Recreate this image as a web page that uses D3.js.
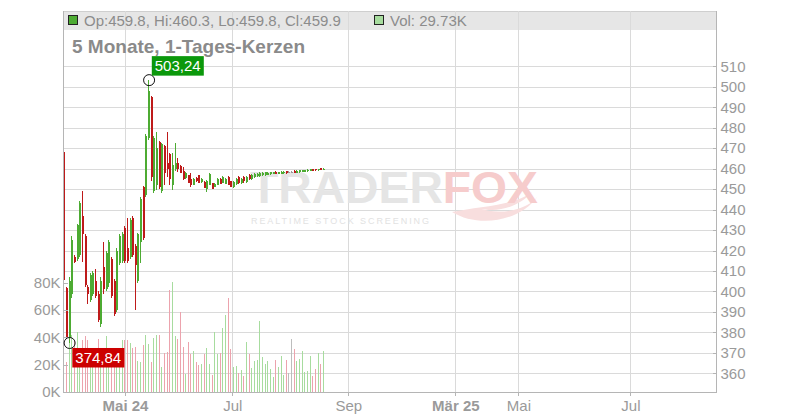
<!DOCTYPE html>
<html><head><meta charset="utf-8">
<script src="https://cdn.jsdelivr.net/npm/d3@7/dist/d3.min.js"></script>
<style>body{margin:0;background:#fff;} svg{display:block;font-family:"Liberation Sans",Arial,sans-serif;}</style>
</head><body><svg id="c" width="800" height="420"></svg>
<script>
// ---- data (daily candles, index = trading day) ----
const opens  = [468.3,401.5,378,399,417,416,418,437,427,402,396,399,405,399,384,412,401,404,416,405,391,414,415,431,421,417,436,422,
  405,424,451,447,475,495,449,452,473,449,471,463,467,452,460,463,461.5,459,455.3,456.9,455,452,455.5,456.9,453.5,453.6,450,452,452.8,451,452,455,453,452.5,456,454,
  451,452.5,456,453,456,453.5,457,455,456,456.5,456.5,457,457,457,457.2,457.5,458.5,457.4,457.5,457.8,458.7,458.3,458.5,458.9,458,458.3,458.5,458.6,458.8,458.9,459.7,459.8,459.2,460.1,459.8];
const highs  = [468.3,402,407,427,418,433,444,449,428,403,409,410,411,400,407,424,420,425,417,406,421,428,429,432,436,436,437,423,
  428.4,446,451.6,477,503.24,495.5,476,478,473.5,472.5,471.5,478,467.6,467.6,472.5,465,461.8,461,458.5,457,457.7,455.3,455.7,457,455.2,453.8,454.4,457.7,453,452.8,455.2,455.3,456.2,455.3,456.3,454.2,
  454,455.5,456.5,455.5,456.5,456.5,457.5,457.5,458,458,458.5,458.5,458.5,458.5,458.6,458.6,458.7,458.6,458.8,458.9,458.9,458.8,459,459.1,459.1,459.3,459.4,459.5,459.6,459.8,459.9,460,460,460.3,460.3];
const lows   = [405.6,377,374.84,397,414,415,417,414.5,402,394,395,398,397,385,382.8,399,400,402,397,388,390,413,414,414,414,416,417,391,
  404,414,425,446,474,454,448,449.5,450,448,452,456,452,449.5,459,458.5,457.8,454.5,455,452.8,451.2,451.8,453.6,452.8,453.2,450.4,448.7,451.8,450,450.8,451.8,452.3,452.8,452.3,451.8,450.8,
  450.5,452,452.5,452.5,453,453,454.5,454.5,455.5,456,456,456.5,456.5,456.8,457,457.3,457.2,457.2,457.3,457.6,457.6,457.9,458,457.8,457.9,458.1,458.3,458.4,458.6,458.7,458.8,459,459,459.3,459.8];
const closes = [405.6,377.5,405,425,414.5,432.5,443,428,403,399,408,409,398,386,405,401,419,424,398,389,420,427,428,415,415,435,418,413,
  428,445,426,476,498,456,475,470,451,472,458,460,455,462,463,460,458,455,458,453,452,455,454,452.8,455,450.4,454,457.5,450.2,452.5,455,452.5,456,455,452,451,
  453.5,455,453,455,454,456,455,457,457.5,457.5,458,458,458.5,458,458.3,458.3,457.4,458.4,458.5,458.6,457.8,458.3,458.5,458,458.9,459.1,459.2,459.3,459.4,459.6,459,459.2,459.8,459.5,459.9];
const volumesK = [26,22,40,42,38,44,30,38,41,38,23,24,31,39,26,25,41,32,28,23,27,30,38,38,38,36,32,33,
  22.7,22,34.4,41.8,35,21.8,39.8,41.7,41.7,18,28.8,29.5,74.7,80.8,41,38.8,58.4,33,13.4,36.6,28,30.3,22.2,19.8,20.8,28,32.5,20.8,12.5,44.2,27.6,28.8,47,56.6,69,31.7,
  18,19,13.7,16,11.7,36.6,27.8,17.6,22.7,23.2,52,25.4,20.5,23,17,10.7,23.2,18,26.4,12.5,23.2,13.9,38.8,31.5,23,24.2,30,14.7,15.2,26.4,11.7,16.8,28.6,20.7,29.73];

const xTickPos    = [22.9, 63.4, 107.2, 147.6, 171.4, 213.7];
const xTickLabels = ["Mai 24", "Jul", "Sep", "Mär 25", "Mai", "Jul"];
const xTickBold   = [true, false, false, true, false, false];
const priceTicks  = [360,370,380,390,400,410,420,430,440,450,460,470,480,490,500,510];
const volTicks    = [0, 20000, 40000, 60000, 80000];
const volTickLabels = ["0K","20K","40K","60K","80K"];
const legendOHLC  = "Op:459.8, Hi:460.3, Lo:459.8, Cl:459.9";
const legendVol   = "Vol: 29.73K";
const chartTitle  = "5 Monate, 1-Tages-Kerzen";
const highLabel = "503,24", lowLabel = "374,84";

// ---- layout ----
const L = 63, R = 716, B = 392, T = 11;
const svg = d3.select("#c");
const x  = d3.scaleLinear().domain([-0.5, 246]).range([L, R]);
const y  = d3.scaleLinear().domain([350.9, 510]).range([B, 66.3]);
const yv = d3.scaleLinear().domain([0, 80000]).range([B, 282.7]);

const UP = "#4dab33", DOWN = "#be1a1a", VUP = "#a7dc9e", VDOWN = "#eca3ad", VFLAT = "#bdbdbd";
const grid = "#dadada", axisC = "#b5b5b5", txt = "#9a9a9a";

// header band
svg.append("rect").attr("x", L).attr("y", T).attr("width", R - L).attr("height", 19).attr("fill", "#e6e6e6");
svg.append("line").attr("x1", L).attr("x2", R).attr("y1", T + 0.5).attr("y2", T + 0.5).attr("stroke", "#cfcfcf");

// gridlines
const g = svg.append("g").attr("shape-rendering", "crispEdges");
g.selectAll(".vg").data(xTickPos).join("line")
  .attr("x1", d => Math.round(x(d)) + 0.5).attr("x2", d => Math.round(x(d)) + 0.5)
  .attr("y1", T).attr("y2", B).attr("stroke", grid);
g.selectAll(".hg").data(priceTicks).join("line")
  .attr("x1", L).attr("x2", R).attr("y1", d => Math.round(y(d)) + 0.5).attr("y2", d => Math.round(y(d)) + 0.5)
  .attr("stroke", grid);

// watermark
const wm = svg.append("g");
wm.append("path")
  .attr("d", "M452,212 C478,228 520,222 538,196 C528,210 500,216 478,208 C498,214 520,206 532,192 C514,206 480,206 452,212 Z")
  .attr("fill", "#f8dede");
const wt = wm.append("text").attr("x", 250).attr("y", 203).attr("font-size", 45).attr("font-weight", "bold")
  .attr("textLength", 288).attr("lengthAdjust", "spacingAndGlyphs");
wt.append("tspan").attr("fill", "#e5e5e5").text("TRADER");
wt.append("tspan").attr("fill", "#f6cccc").text("FOX");
wm.append("text").attr("x", 251).attr("y", 224).attr("font-size", 9).attr("textLength", 178)
  .attr("lengthAdjust", "spacing").attr("fill", "#e2e2e2").text("REALTIME STOCK SCREENING");

// volume bars
const idx = d3.range(closes.length);
const vcol = i => closes[i] > opens[i] ? VUP : (closes[i] < opens[i] ? VDOWN : VFLAT);
svg.append("g").attr("shape-rendering", "crispEdges").selectAll("rect").data(idx).join("rect")
  .attr("x", i => Math.round(x(i)) - 1).attr("width", 1)
  .attr("y", i => yv(volumesK[i] * 1000)).attr("height", i => B - yv(volumesK[i] * 1000))
  .attr("fill", vcol);

// candles
const ccol = i => closes[i] > opens[i] ? UP : (closes[i] < opens[i] ? DOWN : "#999");
const cg = svg.append("g").attr("shape-rendering", "crispEdges");
cg.selectAll(".w").data(idx).join("rect")
  .attr("x", i => Math.round(x(i)) - 1).attr("width", 1)
  .attr("y", i => y(highs[i])).attr("height", i => Math.max(1, y(lows[i]) - y(highs[i])))
  .attr("fill", ccol);
cg.selectAll(".b").data(idx).join("rect")
  .attr("x", i => Math.round(x(i)) - 1).attr("width", 2)
  .attr("y", i => y(Math.max(opens[i], closes[i])))
  .attr("height", i => Math.max(1, Math.abs(y(opens[i]) - y(closes[i]))))
  .attr("fill", ccol);

// axis lines
const ax = svg.append("g").attr("shape-rendering", "crispEdges").attr("stroke", axisC);
ax.append("line").attr("x1", L + 0.5).attr("x2", L + 0.5).attr("y1", T).attr("y2", B);
ax.append("line").attr("x1", R + 0.5).attr("x2", R + 0.5).attr("y1", T).attr("y2", B);
ax.append("line").attr("x1", L).attr("x2", R + 1).attr("y1", B + 0.5).attr("y2", B + 0.5);

function styleAxis(sel) {
  sel.select(".domain").remove();
  sel.selectAll(".tick line").attr("stroke", axisC).attr("shape-rendering", "crispEdges");
  sel.selectAll(".tick text").attr("fill", txt).attr("font-size", 15)
    .attr("font-family", '"Liberation Sans",Arial,sans-serif');
}
// right price axis
svg.append("g").attr("transform", `translate(${R + 0.5},0)`)
  .call(d3.axisRight(y).tickValues(priceTicks).tickSize(-4).tickSizeOuter(0).tickPadding(4).tickFormat(d3.format("d")))
  .call(styleAxis);
// left volume axis
svg.append("g").attr("transform", `translate(${L + 0.5},0)`)
  .call(d3.axisLeft(yv).tickValues(volTicks).tickSize(-4).tickSizeOuter(0).tickPadding(3)
    .tickFormat((d, i) => volTickLabels[i]))
  .call(styleAxis);
// bottom time axis
const xb = svg.append("g").attr("transform", `translate(0,${B + 0.5})`)
  .call(d3.axisBottom(x).tickValues(xTickPos).tickSize(3).tickSizeOuter(0).tickPadding(5)
    .tickFormat((d, i) => xTickLabels[i]))
  .call(styleAxis);
xb.selectAll(".tick text").attr("font-weight", (d, i) => xTickBold[i] ? "bold" : "normal");

// legend
svg.append("rect").attr("x", 68.5).attr("y", 15.5).attr("width", 9).attr("height", 9)
  .attr("fill", UP).attr("stroke", "#222");
svg.append("text").attr("x", 84).attr("y", 26).attr("font-size", 15).attr("fill", "#8c8c8c").text(legendOHLC);
svg.append("rect").attr("x", 374.5).attr("y", 15.5).attr("width", 9).attr("height", 9)
  .attr("fill", VUP).attr("stroke", "#222");
svg.append("text").attr("x", 390).attr("y", 26).attr("font-size", 15).attr("fill", "#8c8c8c").text(legendVol);

// title
svg.append("text").attr("x", 72).attr("y", 53).attr("font-size", 19).attr("font-weight", "bold")
  .attr("fill", "#8a8a8a").text(chartTitle);

// high / low markers
const hi = d3.maxIndex(highs), lo = d3.minIndex(lows);
function marker(i, v, label, color, above) {
  const cx = x(i), cy = y(v);
  svg.append("circle").attr("cx", cx).attr("cy", cy).attr("r", 5.5)
    .attr("fill", "none").attr("stroke", "#111").attr("stroke-width", 1);
  const bx = cx + 2.7, by = above ? cy - 24 : cy + 5;
  svg.append("rect").attr("x", bx).attr("y", by).attr("width", 52).attr("height", 19.5).attr("fill", color);
  svg.append("text").attr("x", bx + 3).attr("y", by + 15).attr("font-size", 15).attr("fill", "#fff").text(label);
}
marker(hi, highs[hi], highLabel, "#0b980b", true);
marker(lo, lows[lo], lowLabel, "#cc0000", false);
</script></body></html>
